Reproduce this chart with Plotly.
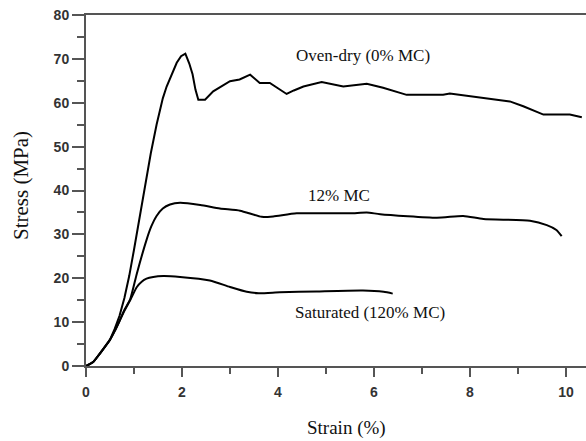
import plotly.graph_objects as go

# Oven-dry (0% MC)
dry_x = [0, 0.15, 0.3, 0.5, 0.6, 0.7, 0.8, 0.9, 1.0, 1.1, 1.2, 1.35, 1.47, 1.6, 1.68, 1.8, 1.89, 1.98, 2.07,
         2.15, 2.22, 2.28, 2.34, 2.48, 2.65, 3.0, 3.2, 3.42, 3.62, 3.83, 4.04, 4.18, 4.33, 4.53, 4.91,
         5.36, 5.85, 6.19, 6.68, 7.44, 7.58, 8.14, 8.83, 9.11, 9.53, 10.08, 10.33]
dry_y = [0, 0.9, 3.0, 6.0, 8.5, 11.5, 15.5, 20.5, 26.5, 33.0, 39.5, 48.5, 55.0, 61.0, 63.7, 67.0, 69.1, 70.6, 71.2,
         69.0, 66.5, 63.0, 60.7, 60.7, 62.6, 64.9, 65.3, 66.4, 64.5, 64.5, 63.0, 62.0, 62.8, 63.7, 64.7,
         63.7, 64.3, 63.4, 61.8, 61.8, 62.1, 61.3, 60.3, 59.2, 57.3, 57.3, 56.7]

# 12% MC
mc12_x = [0, 0.15, 0.3, 0.5, 0.6, 0.7, 0.8, 0.92, 1.06, 1.26, 1.36, 1.47, 1.6, 1.75, 1.96, 2.38, 2.79, 3.21,
          3.66, 3.9, 4.39, 5.5, 5.85, 6.13, 7.31, 7.86, 8.28, 9.25, 9.6, 9.8, 9.91]
mc12_y = [0, 0.9, 3.0, 6.0, 8.0, 10.3, 12.8, 15.2, 21.1, 28.7, 31.8, 34.2, 35.9, 36.8, 37.2, 36.7, 35.9, 35.4,
          34.0, 34.1, 34.8, 34.8, 35.0, 34.6, 33.8, 34.2, 33.5, 33.1, 32.1, 31.0, 29.6]

# Saturated (120% MC)
sat_x = [0, 0.15, 0.3, 0.5, 0.6, 0.7, 0.8, 0.92, 1.06, 1.16, 1.26, 1.4, 1.61, 1.96, 2.58, 3.0, 3.35, 3.6,
         4.04, 4.8, 5.77, 6.2, 6.39]
sat_y = [0, 0.9, 3.0, 6.0, 8.0, 10.3, 12.6, 15.0, 18.0, 19.2, 19.9, 20.3, 20.5, 20.3, 19.5, 18.0, 16.9, 16.6,
         16.8, 17.0, 17.2, 16.9, 16.5]

labels = ["Oven-dry (0% MC)", "12% MC", "Saturated (120% MC)"]
label_x = [5.77, 5.28, 5.92]
label_y = [70.7, 38.9, 12.1]

W, H = 586, 441
L, R, T, B = 86, 0, 15, 75
pw, ph = W - L - R, H - T - B

fig = go.Figure()
fig.add_trace(go.Scatter(x=dry_x, y=dry_y, mode="lines", line=dict(color="black", width=2)))
fig.add_trace(go.Scatter(x=mc12_x, y=mc12_y, mode="lines", line=dict(color="black", width=2, shape="spline", smoothing=0.6)))
fig.add_trace(go.Scatter(x=sat_x, y=sat_y, mode="lines", line=dict(color="black", width=2, shape="spline", smoothing=0.6)))

serif = "Liberation Serif, Times New Roman, serif"
for t, ax, ay in zip(labels, label_x, label_y):
    fig.add_annotation(x=ax, y=ay, xref="x", yref="y", text=t, showarrow=False,
                       font=dict(family=serif, size=17, color="#111"))

# axis titles placed at pixel positions
fig.add_annotation(x=(346 - L) / pw, y=(H - B - 428) / ph, xref="paper", yref="paper",
                   text="Strain (%)", showarrow=False, xanchor="center", yanchor="middle",
                   font=dict(family=serif, size=19, color="#111"))
fig.add_annotation(x=(21 - L) / pw, y=(H - B - 186) / ph, xref="paper", yref="paper",
                   text="Stress (MPa)", showarrow=False, textangle=-90, xanchor="center", yanchor="middle",
                   font=dict(family=serif, size=21, color="#111"))

tickfont = dict(family="Liberation Sans, Arial, sans-serif", size=14, color="#333", weight="bold")

fig.update_layout(
    width=W, height=H,
    margin=dict(l=L, r=R, t=T, b=B, autoexpand=False),
    paper_bgcolor="white", plot_bgcolor="white",
    showlegend=False,
    xaxis=dict(range=[0, 10.417], showgrid=False, zeroline=False,
               showline=True, linecolor="#555", linewidth=2, mirror=True,
               ticks="outside", ticklen=9, tickwidth=2, tickcolor="#555",
               tickvals=[0, 2, 4, 6, 8, 10], tickfont=tickfont, ticklabelstandoff=3,
               minor=dict(ticks="outside", ticklen=6, tickwidth=2, tickcolor="#555", dtick=1, showgrid=False)),
    yaxis=dict(range=[0, 80], showgrid=False, zeroline=False,
               showline=True, linecolor="#555", linewidth=2,
               ticks="outside", ticklen=12, tickwidth=2, tickcolor="#555",
               dtick=10, tickfont=tickfont,
               minor=dict(ticks="outside", ticklen=7, tickwidth=2, tickcolor="#555", dtick=5, showgrid=False)),
)

fig.write_html("out.html", config={"displayModeBar": False},
               post_script="document.body.style.margin='0';document.body.style.overflow='hidden';")
